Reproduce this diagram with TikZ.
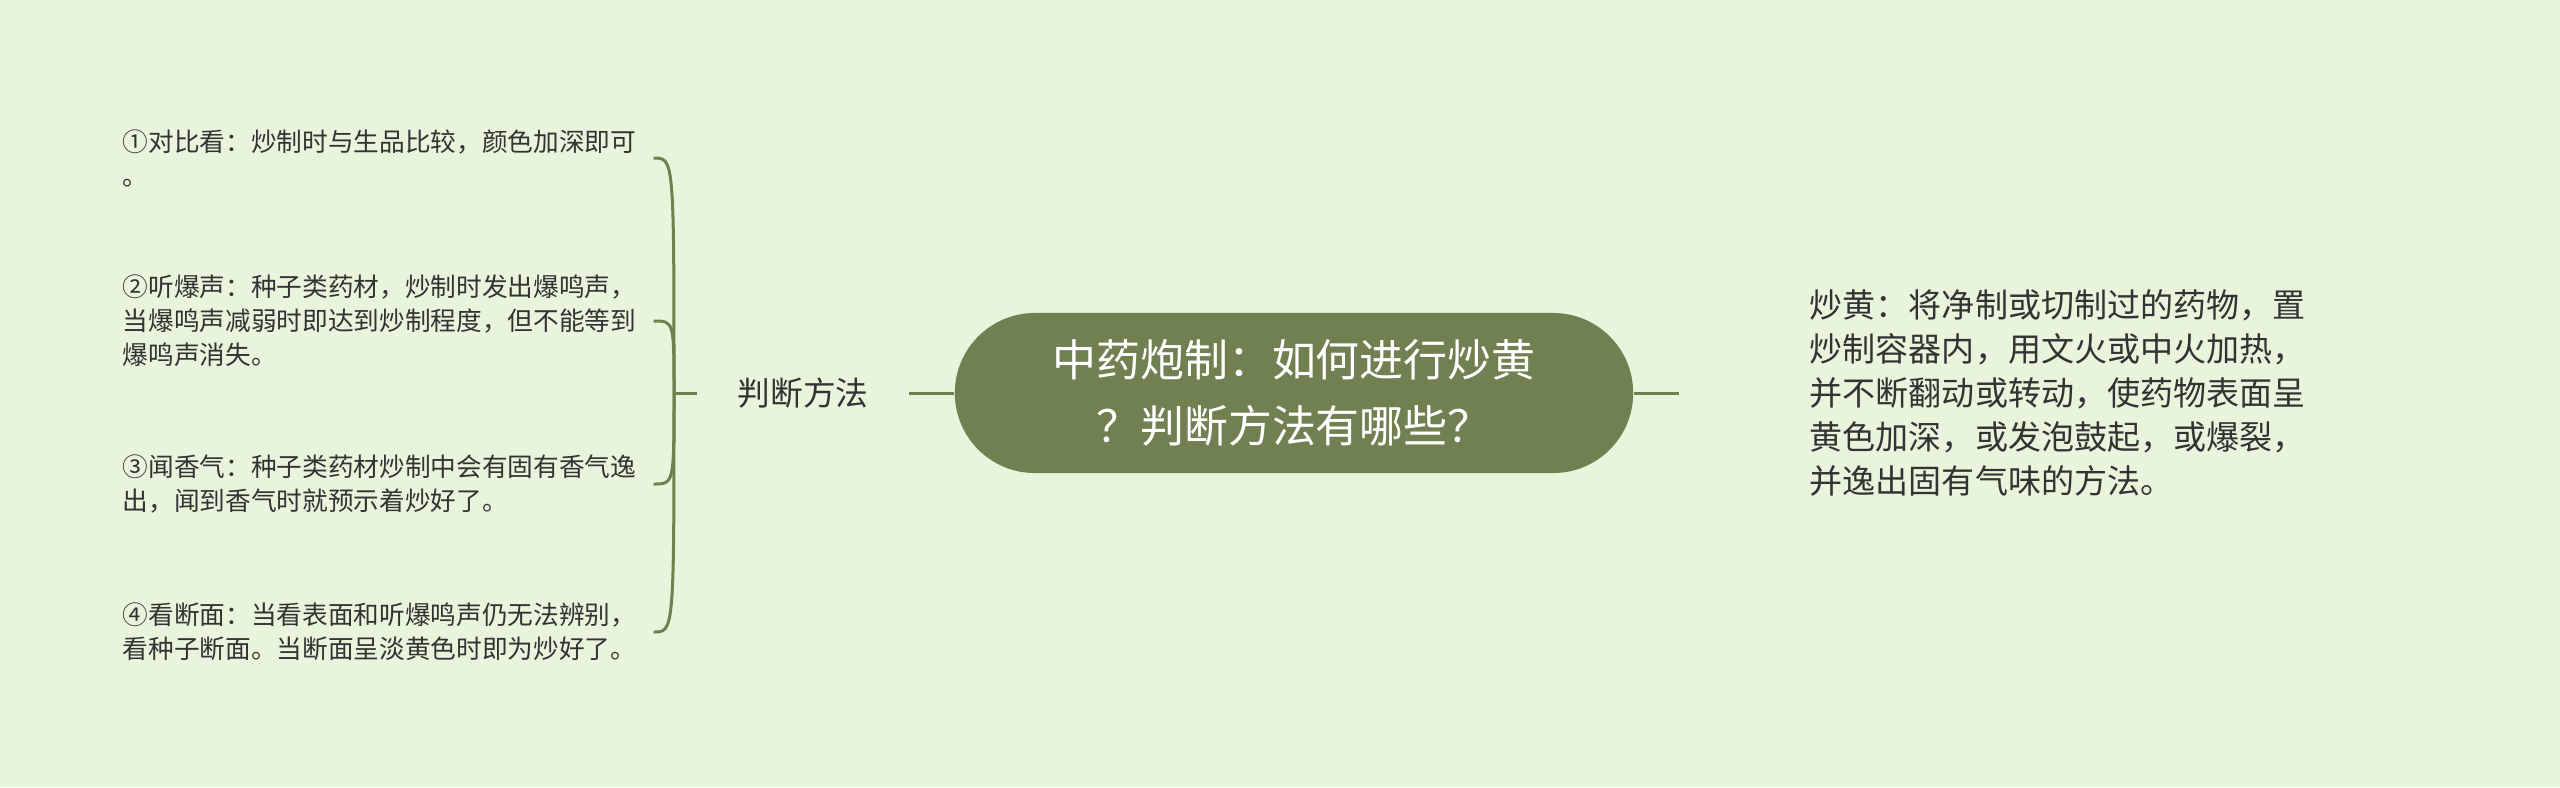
\documentclass[tikz,border=0pt]{standalone}
\usepackage{fontspec}
\setmainfont{Noto Sans CJK SC}
\definecolor{bgc}{HTML}{E8F5DC}
\definecolor{olive}{HTML}{718050}
\definecolor{ink}{HTML}{333333}
\begin{document}
\begin{tikzpicture}[x=0.01cm, y=-0.01cm,
  branch/.style={draw=olive, line width=0.03cm},
  leaf/.style={anchor=west, inner sep=0, text width=5.3cm, align=left, text=ink, font=\fontsize{7.3}{9.7}\selectfont}]
\fill[bgc] (0,0) rectangle (2560,787);
\useasboundingbox (0,0) rectangle (2560,787);
\node[rounded corners=0.8cm, fill=olive, minimum width=6.78cm, minimum height=1.6cm, text=white, align=center, font=\fontsize{12.5}{18.6}\selectfont] (root) at (1294,393) {中药炮制：如何进行炒黄\\？判断方法有哪些？};
\node[text=ink, minimum width=2.11cm, inner sep=0, font=\fontsize{9.3}{12}\selectfont] (judge) at (803,393) {判断方法};
\coordinate (hub) at (674,393);
\node[leaf] (c1) at (122,158) {①对比看：炒制时与生品比较，颜色加深即可\\。};
\node[leaf] (c2) at (122,321) {②听爆声：种子类药材，炒制时发出爆鸣声，\\当爆鸣声减弱时即达到炒制程度，但不能等到\\爆鸣声消失。};
\node[leaf] (c3) at (122,484) {③闻香气：种子类药材炒制中会有固有香气逸\\出，闻到香气时就预示着炒好了。};
\node[leaf] (c4) at (122,632) {④看断面：当看表面和听爆鸣声仍无法辨别，\\看种子断面。当断面呈淡黄色时即为炒好了。};
\node[anchor=west, inner sep=0, text width=5.1cm, align=left, text=ink, font=\fontsize{9.4}{12.5}\selectfont] (desc) at (1809,393) {炒黄：将净制或切制过的药物，置\\炒制容器内，用文火或中火加热，\\并不断翻动或转动，使药物表面呈\\黄色加深，或发泡鼓起，或爆裂，\\并逸出固有气味的方法。};
\coordinate (dr) at (1679,393);
\draw[branch] (root.east) -- (dr);
\draw[branch] (root.west) -- (judge.east);
\draw[branch] (judge.west) -- (hub);
\foreach \c in {c1,c2,c3,c4}
  \draw[branch] (hub) .. controls (hub |- \c.east) .. (\c.east);
\end{tikzpicture}
\end{document}
